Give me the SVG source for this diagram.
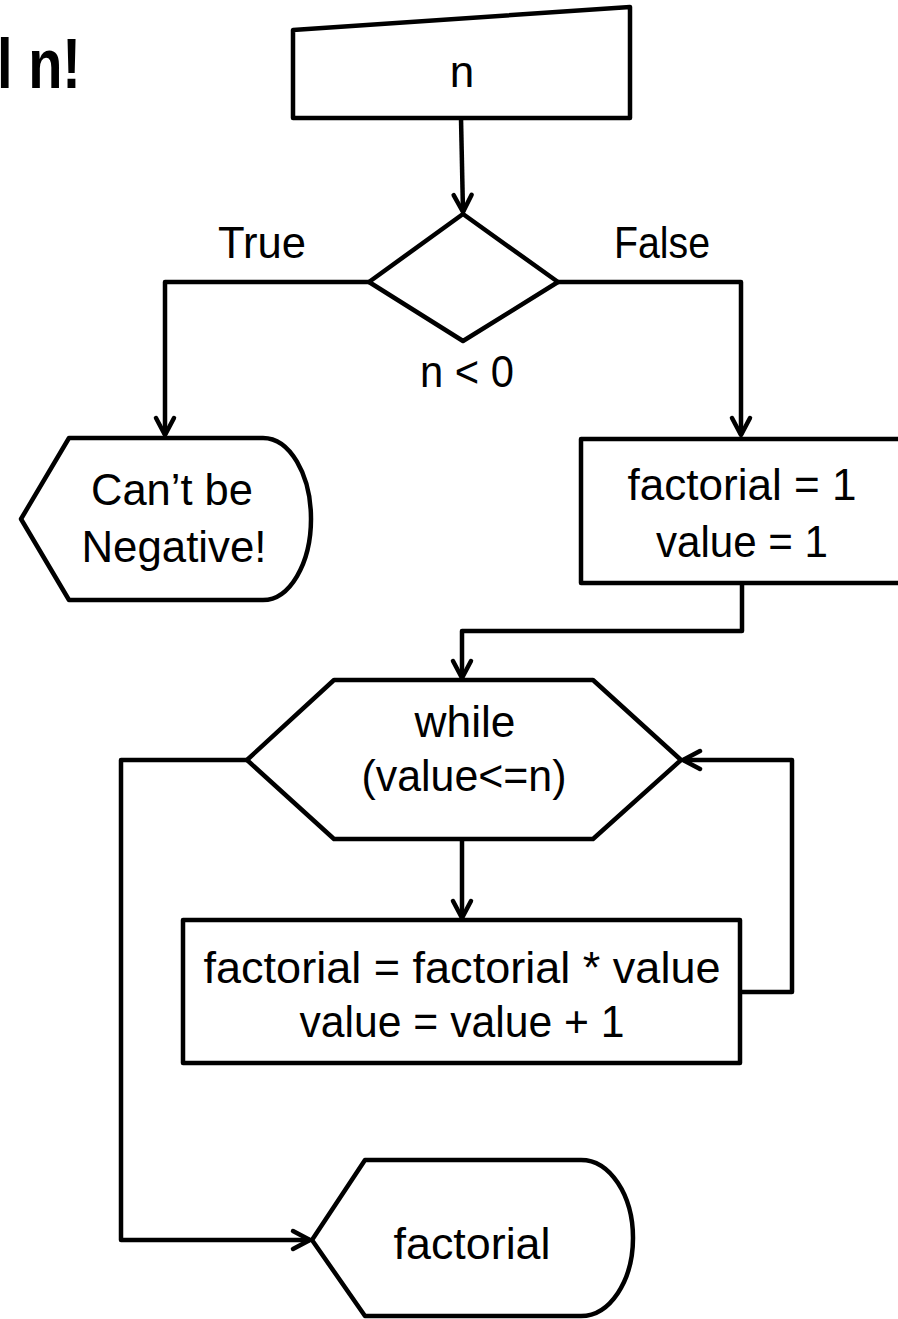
<svg xmlns="http://www.w3.org/2000/svg" width="898" height="1319" viewBox="0 0 898 1319">
<style>
.shape{fill:#fff;stroke:#000;stroke-width:4.5;stroke-linejoin:round}
.conn{fill:none;stroke:#000;stroke-width:4.5;stroke-linejoin:round}
.t{font-family:'Liberation Sans',Arial,sans-serif;font-size:44px;fill:#000;text-anchor:middle}
.title{font-family:'Liberation Sans',Arial,sans-serif;font-size:70px;font-weight:bold;fill:#000}
</style>
<defs>
<marker id="arr" markerUnits="userSpaceOnUse" viewBox="-22 -14 26 28" refX="0" refY="0" markerWidth="26" markerHeight="28" orient="auto">
<path d="M -17 -9 L 0 0 L -17 9" fill="none" stroke="#000" stroke-width="4.5" stroke-linecap="round" stroke-linejoin="round"/>
</marker>
</defs>
<rect width="898" height="1319" fill="#fff"/>
<text class="title" x="-3" y="88" textLength="84" lengthAdjust="spacingAndGlyphs">l n!</text>

<g id="input-n">
<path class="shape" d="M 293 30 L 630 7 L 630 118 L 293 118 Z"/>
<text class="t" x="462" y="87">n</text>
</g>

<g id="decision-n-lt-0">
<path class="shape" d="M 463 214 L 558 282 L 463 341 L 369 282 Z"/>
<text class="t" x="467" y="387" textLength="94" lengthAdjust="spacingAndGlyphs">n &lt; 0</text>
</g>

<g id="display-negative">
<path class="shape" d="M 21 519 L 69 438 L 263 438 A 48 81 0 0 1 263 600 L 69 600 Z"/>
<text class="t" x="172" y="505" textLength="162" lengthAdjust="spacingAndGlyphs">Can’t be</text>
<text class="t" x="174" y="562" textLength="185" lengthAdjust="spacingAndGlyphs">Negative!</text>
</g>

<g id="process-init">
<path class="shape" d="M 581 439 L 905 439 L 905 583 L 581 583 Z"/>
<text class="t" x="742" y="500" textLength="229" lengthAdjust="spacingAndGlyphs">factorial = 1</text>
<text class="t" x="742" y="557" textLength="172" lengthAdjust="spacingAndGlyphs">value = 1</text>
</g>

<g id="loop-while">
<path class="shape" d="M 247 760 L 334 680 L 593 680 L 681 760 L 593 839 L 334 839 Z"/>
<text class="t" x="465" y="737" textLength="101" lengthAdjust="spacingAndGlyphs">while</text>
<text class="t" x="464" y="791" textLength="205" lengthAdjust="spacingAndGlyphs">(value&lt;=n)</text>
</g>

<g id="process-body">
<path class="shape" d="M 183 920 L 740 920 L 740 1063 L 183 1063 Z"/>
<text class="t" x="462" y="983" textLength="517" lengthAdjust="spacingAndGlyphs">factorial = factorial * value</text>
<text class="t" x="462" y="1037" textLength="325" lengthAdjust="spacingAndGlyphs">value = value + 1</text>
</g>

<g id="display-factorial">
<path class="shape" d="M 312 1240 L 365 1160 L 581 1160 A 52 78 0 0 1 581 1316 L 365 1316 Z"/>
<text class="t" x="472" y="1259" textLength="157" lengthAdjust="spacingAndGlyphs">factorial</text>
</g>

<g id="connectors">
<path class="conn" d="M 461 118 L 463 212" marker-end="url(#arr)"/>
<path class="conn" d="M 369 282 L 165 282 L 165 435" marker-end="url(#arr)"/>
<path class="conn" d="M 558 282 L 741 282 L 741 435" marker-end="url(#arr)"/>
<path class="conn" d="M 742 583 L 742 631 L 462 631 L 462 678" marker-end="url(#arr)"/>
<path class="conn" d="M 462 839 L 462 918" marker-end="url(#arr)"/>
<path class="conn" d="M 740 992 L 792 992 L 792 760 L 683 760" marker-end="url(#arr)"/>
<path class="conn" d="M 247 760 L 121 760 L 121 1240 L 310 1240" marker-end="url(#arr)"/>
<text class="t" x="262" y="258" textLength="88" lengthAdjust="spacingAndGlyphs">True</text>
<text class="t" x="662" y="258" textLength="96" lengthAdjust="spacingAndGlyphs">False</text>
</g>
</svg>
